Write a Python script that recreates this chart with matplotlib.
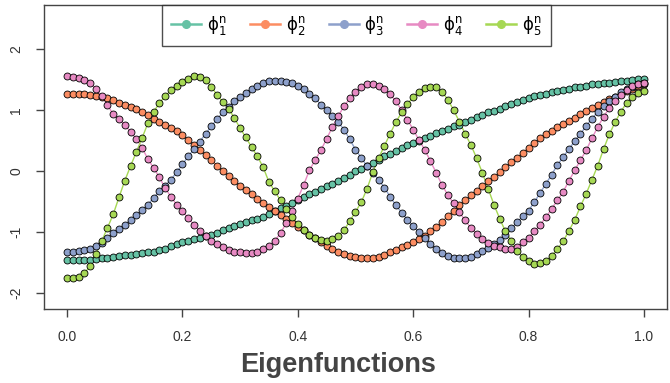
import numpy as np
import matplotlib
matplotlib.use("Agg")
import matplotlib.pyplot as plt

plt.rcParams['font.family'] = ['Liberation Sans Narrow', 'Liberation Sans', 'DejaVu Sans']

# sample points (shared by all eigenfunctions)
x = np.round(np.arange(0, 101) * 0.01, 2)

phi1 = [-1.46, -1.46, -1.455, -1.45, -1.45, -1.44, -1.43, -1.42, -1.40, -1.39,
        -1.38, -1.37, -1.36, -1.35, -1.33, -1.32, -1.30, -1.27, -1.23, -1.20,
        -1.17, -1.15, -1.12, -1.09, -1.06, -1.04, -1.01, -0.96, -0.93, -0.90,
        -0.87, -0.84, -0.81, -0.78, -0.75, -0.70, -0.66, -0.61, -0.57, -0.52,
        -0.47, -0.42, -0.38, -0.34, -0.29, -0.25, -0.21, -0.16, -0.11, -0.06,
        0.00, 0.03, 0.08, 0.13, 0.18, 0.24, 0.28, 0.33, 0.38, 0.42,
        0.46, 0.50, 0.54, 0.58, 0.62, 0.66, 0.69, 0.73, 0.76, 0.80,
        0.84, 0.88, 0.92, 0.96, 0.99, 1.02, 1.06, 1.10, 1.13, 1.17,
        1.20, 1.23, 1.25, 1.27, 1.29, 1.31, 1.33, 1.35, 1.37, 1.38,
        1.40, 1.42, 1.43, 1.44, 1.45, 1.46, 1.47, 1.48, 1.49, 1.50, 1.50]

phi2 = [1.27, 1.27, 1.27, 1.26, 1.25, 1.23, 1.21, 1.19, 1.16, 1.12,
        1.09, 1.05, 1.01, 0.96, 0.91, 0.86, 0.81, 0.76, 0.71, 0.66,
        0.59, 0.51, 0.42, 0.34, 0.26, 0.18, 0.09, 0.00, -0.08, -0.16,
        -0.24, -0.31, -0.38, -0.45, -0.52, -0.59, -0.65, -0.72, -0.78, -0.85,
        -0.91, -0.97, -1.04, -1.10, -1.16, -1.22, -1.27, -1.32, -1.36, -1.39,
        -1.41, -1.42, -1.43, -1.42, -1.40, -1.37, -1.33, -1.29, -1.25, -1.21,
        -1.16, -1.11, -1.06, -0.99, -0.92, -0.83, -0.74, -0.65, -0.56, -0.48,
        -0.40, -0.33, -0.25, -0.17, -0.10, -0.02, 0.06, 0.14, 0.22, 0.30,
        0.38, 0.46, 0.54, 0.60, 0.66, 0.72, 0.77, 0.82, 0.87, 0.93,
        0.98, 1.03, 1.08, 1.13, 1.18, 1.22, 1.27, 1.31, 1.35, 1.39, 1.42]

phi3 = [-1.32, -1.32, -1.31, -1.30, -1.27, -1.23, -1.18, -1.10, -1.02, -0.95,
        -0.88, -0.80, -0.72, -0.64, -0.55, -0.44, -0.33, -0.24, -0.14, -0.02,
        0.11, 0.24, 0.36, 0.48, 0.61, 0.73, 0.85, 0.96, 1.05, 1.14,
        1.21, 1.28, 1.35, 1.40, 1.44, 1.47, 1.48, 1.48, 1.46, 1.44,
        1.39, 1.34, 1.27, 1.19, 1.09, 1.00, 0.90, 0.80, 0.68, 0.52,
        0.35, 0.22, 0.08, -0.03, -0.14, -0.27, -0.42, -0.56, -0.68, -0.80,
        -0.90, -1.00, -1.10, -1.19, -1.27, -1.34, -1.39, -1.43, -1.43, -1.42,
        -1.40, -1.36, -1.31, -1.26, -1.20, -1.13, -1.04, -0.94, -0.84, -0.74,
        -0.65, -0.51, -0.36, -0.21, -0.06, 0.10, 0.23, 0.36, 0.49, 0.61,
        0.74, 0.86, 0.97, 1.07, 1.15, 1.22, 1.29, 1.34, 1.38, 1.42, 1.44]

phi4 = [1.55, 1.54, 1.53, 1.49, 1.44, 1.35, 1.23, 1.08, 0.93, 0.85,
        0.76, 0.64, 0.53, 0.38, 0.20, 0.05, -0.10, -0.28, -0.42, -0.55,
        -0.66, -0.77, -0.88, -0.98, -1.06, -1.14, -1.20, -1.25, -1.29, -1.32,
        -1.33, -1.34, -1.34, -1.32, -1.28, -1.22, -1.14, -1.02, -0.85, -0.65,
        -0.45, -0.23, 0.01, 0.18, 0.34, 0.53, 0.72, 0.90, 1.06, 1.19,
        1.30, 1.38, 1.43, 1.43, 1.40, 1.34, 1.26, 1.14, 1.00, 0.84,
        0.68, 0.51, 0.35, 0.16, -0.03, -0.23, -0.39, -0.53, -0.67, -0.81,
        -0.93, -1.03, -1.11, -1.18, -1.22, -1.25, -1.27, -1.27, -1.24, -1.17,
        -1.09, -0.99, -0.88, -0.76, -0.62, -0.48, -0.34, -0.16, 0.01, 0.18,
        0.34, 0.54, 0.72, 0.89, 1.03, 1.15, 1.25, 1.33, 1.39, 1.43, 1.45]

phi5 = [-1.76, -1.75, -1.73, -1.67, -1.56, -1.36, -1.15, -0.93, -0.71, -0.43,
        -0.16, 0.08, 0.31, 0.54, 0.78, 0.97, 1.11, 1.23, 1.32, 1.40,
        1.46, 1.51, 1.55, 1.54, 1.49, 1.38, 1.25, 1.13, 1.02, 0.87,
        0.70, 0.55, 0.39, 0.24, 0.06, -0.18, -0.33, -0.48, -0.63, -0.75,
        -0.86, -0.96, -1.04, -1.09, -1.13, -1.14, -1.12, -1.06, -0.97, -0.82,
        -0.67, -0.51, -0.29, -0.02, 0.21, 0.41, 0.61, 0.80, 0.96, 1.10,
        1.21, 1.30, 1.36, 1.38, 1.37, 1.30, 1.17, 1.00, 0.81, 0.61,
        0.43, 0.21, -0.03, -0.29, -0.55, -0.78, -0.99, -1.14, -1.31, -1.41,
        -1.48, -1.52, -1.50, -1.47, -1.39, -1.28, -1.15, -0.98, -0.80, -0.58,
        -0.37, -0.14, 0.09, 0.36, 0.60, 0.80, 0.97, 1.12, 1.21, 1.28, 1.31]

series = [phi1, phi2, phi3, phi4, phi5]
labels = [r'$\mathrm{\phi}_\mathrm{%d}^\mathrm{n}$' % k for k in range(1, 6)]
colors = ['#66C2A5', '#FC8D62', '#8DA0CB', '#E78AC3', '#A6D854']

fig = plt.figure(figsize=(6.70, 3.83), dpi=100)
ax = fig.add_axes([44 / 670, 1 - 309 / 383, 623 / 670, 304 / 383])

for y, c in zip(series, colors):
    ax.plot(x, y, '-', color=c, lw=1.0, zorder=2)
    ax.plot(x, y, 'o', ms=5, mfc=c, mec='black', mew=0.6, zorder=3)

# legend handles: line with a coloured dot
handles = [plt.Line2D([], [], color=c, lw=1.8, marker='o', ms=5.5, mec=c) for c in colors]
leg = ax.legend(handles, labels, loc='upper left', mode='expand',
                bbox_to_anchor=(118 / 623, 0, 389 / 623, 1.0),
                ncol=5, frameon=True, fancybox=False, edgecolor='#222222',
                fontsize=12, handlelength=1.8, handletextpad=0.35,
                borderpad=0.55, borderaxespad=0)
leg.get_frame().set_linewidth(1.0)

ax.set_xlim(-0.04, 1.04)
ax.set_ylim(-2.26, 2.72)
ax.set_xticks([0.0, 0.2, 0.4, 0.6, 0.8, 1.0])
ax.set_xticklabels(['0.0', '0.2', '0.4', '0.6', '0.8', '1.0'])
ax.set_yticks([-2, -1, 0, 1, 2])
ax.set_yticklabels(['-2', '-1', '0', '1', '2'], rotation=90, va='center')

for s in ax.spines.values():
    s.set_color('#444444')
    s.set_linewidth(1.0)
ax.tick_params(direction='out', length=6, width=1, colors='#444444',
               labelcolor='#333333', labelsize=10, pad=9)

fig.text(0.504, 1 - 372 / 383, 'Eigenfunctions', ha='center', va='baseline',
         fontsize=19.5, fontweight='bold', color='#444444')

fig.savefig('out.png', dpi=100)
